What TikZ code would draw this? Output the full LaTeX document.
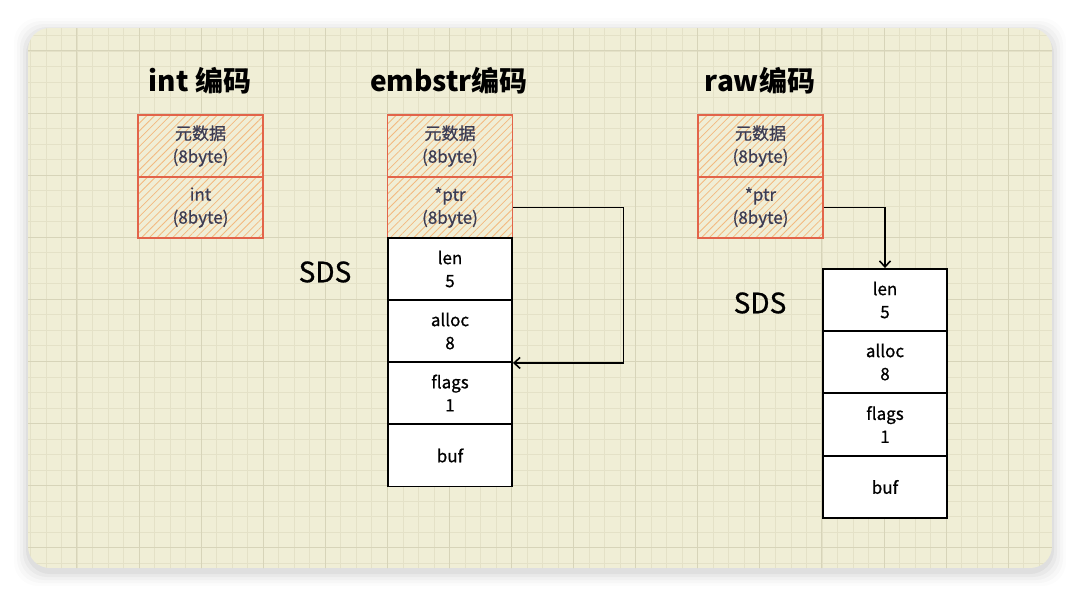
\documentclass[tikz,border=0pt]{standalone}
\usepackage{fontspec}
\setmainfont{Noto Sans CJK SC}
\newfontfamily\boxfont[FakeBold=0.8]{Noto Sans CJK SC}
\usetikzlibrary{arrows.meta,patterns.meta,calc}
\definecolor{cardbg}{HTML}{F0EED6}
\definecolor{gridminor}{HTML}{E4E1C7}
\definecolor{gridmajor}{HTML}{D7D4B9}
\definecolor{ostroke}{HTML}{E2644A}
\definecolor{ohatch}{HTML}{F3B97E}
\definecolor{otext}{HTML}{3C3C54}
\tikzset{
  obox/.style={draw=ostroke, line width=1.8pt, minimum width=125pt, minimum height=61.5pt,
    inner sep=0pt, align=center, text=otext, font=\boxfont\fontsize{17}{23}\selectfont,
    preaction={fill=cardbg},
    pattern={Lines[angle=45,distance=5.5pt,line width=0.8pt]}, pattern color=ohatch},
  wbox/.style={draw=black, line width=1.9pt, fill=white, minimum width=124pt, minimum height=62pt,
    inner sep=0pt, align=center, text=black, font=\boxfont\fontsize{17}{23}\selectfont},
  title/.style={font=\fontsize{28}{30}\selectfont\bfseries, text=black, inner sep=0pt},
  sdslabel/.style={font=\boxfont\fontsize{28}{30}\selectfont, text=black, inner sep=0pt},
  arr/.style={draw=black, line width=1.6pt, -{Straight Barb[length=6pt,width=11pt,line width=1.6pt]}},
  minor/.style={draw=gridminor, line width=0.8pt},
  major/.style={draw=gridmajor, line width=1pt}
}
\begin{document}
\begin{tikzpicture}[x=1pt,y=-1pt]
\useasboundingbox (0,0) rectangle (1080,597);
\fill[white] (0,0) rectangle (1080,597);
% shadow
\foreach \k/\op in {14/0.012,11/0.018,8/0.025,5/0.03,2/0.04}{
  \fill[black,opacity=\op,rounded corners=24pt] (28-\k,32-\k) rectangle (1052+\k,572+\k);
}
% card
\begin{scope}
\clip[rounded corners=22pt] (28,28) rectangle (1052,568);
\fill[cardbg] (28,28) rectangle (1052,568);
\foreach \i in {0,...,70}{ \draw[minor] ({-0.6+15.52*\i},0) -- ({-0.6+15.52*\i},597); }
\foreach \j in {0,...,40}{ \draw[minor] (0,{-11.1+15.52*\j}) -- (1080,{-11.1+15.52*\j}); }
\foreach \i in {0,...,17}{ \draw[major] ({14.9+62.08*\i},0) -- ({14.9+62.08*\i},597); }
\foreach \j in {0,...,10}{ \draw[major] (0,{-11.1+62.08*\j}) -- (1080,{-11.1+62.08*\j}); }
\end{scope}
% titles
\node[title] (t1) at (200,81) {int 编码};
\node[title] (t2) at (449,81) {embstr编码};
\node[title] (t3) at (760,81) {raw编码};
% int
\node[obox] (i1) at (200.5,146) {元数据\\(8byte)};
\node[obox] (i2) at (200.5,207.5) {int\\(8byte)};
% embstr
\node[obox] (e1) at (450,146) {元数据\\(8byte)};
\node[obox] (e2) at (450,207.5) {*ptr\\(8byte)};
\node[wbox] (e3) at (450,269) {len\\5};
\node[wbox] (e4) at (450,331) {alloc\\8};
\node[wbox] (e5) at (450,393) {flags\\1};
\node[wbox] (e6) at (450,455.5) {buf};
\node[sdslabel] (sds1) at (325,272) {SDS};
% raw
\node[obox] (r1) at (760.5,146) {元数据\\(8byte)};
\node[obox] (r2) at (760.5,207.5) {*ptr\\(8byte)};
\node[wbox] (s1) at (885,300) {len\\5};
\node[wbox] (s2) at (885,362) {alloc\\8};
\node[wbox] (s3) at (885,424.5) {flags\\1};
\node[wbox] (s4) at (885,487) {buf};
\node[sdslabel] (sds2) at (760,303) {SDS};
% arrows
\draw[arr] (e2.east) -- ++(110,0) |- (e4.south east);
\draw[arr] (r2.east) -| (s1.north);
\end{tikzpicture}
\end{document}
